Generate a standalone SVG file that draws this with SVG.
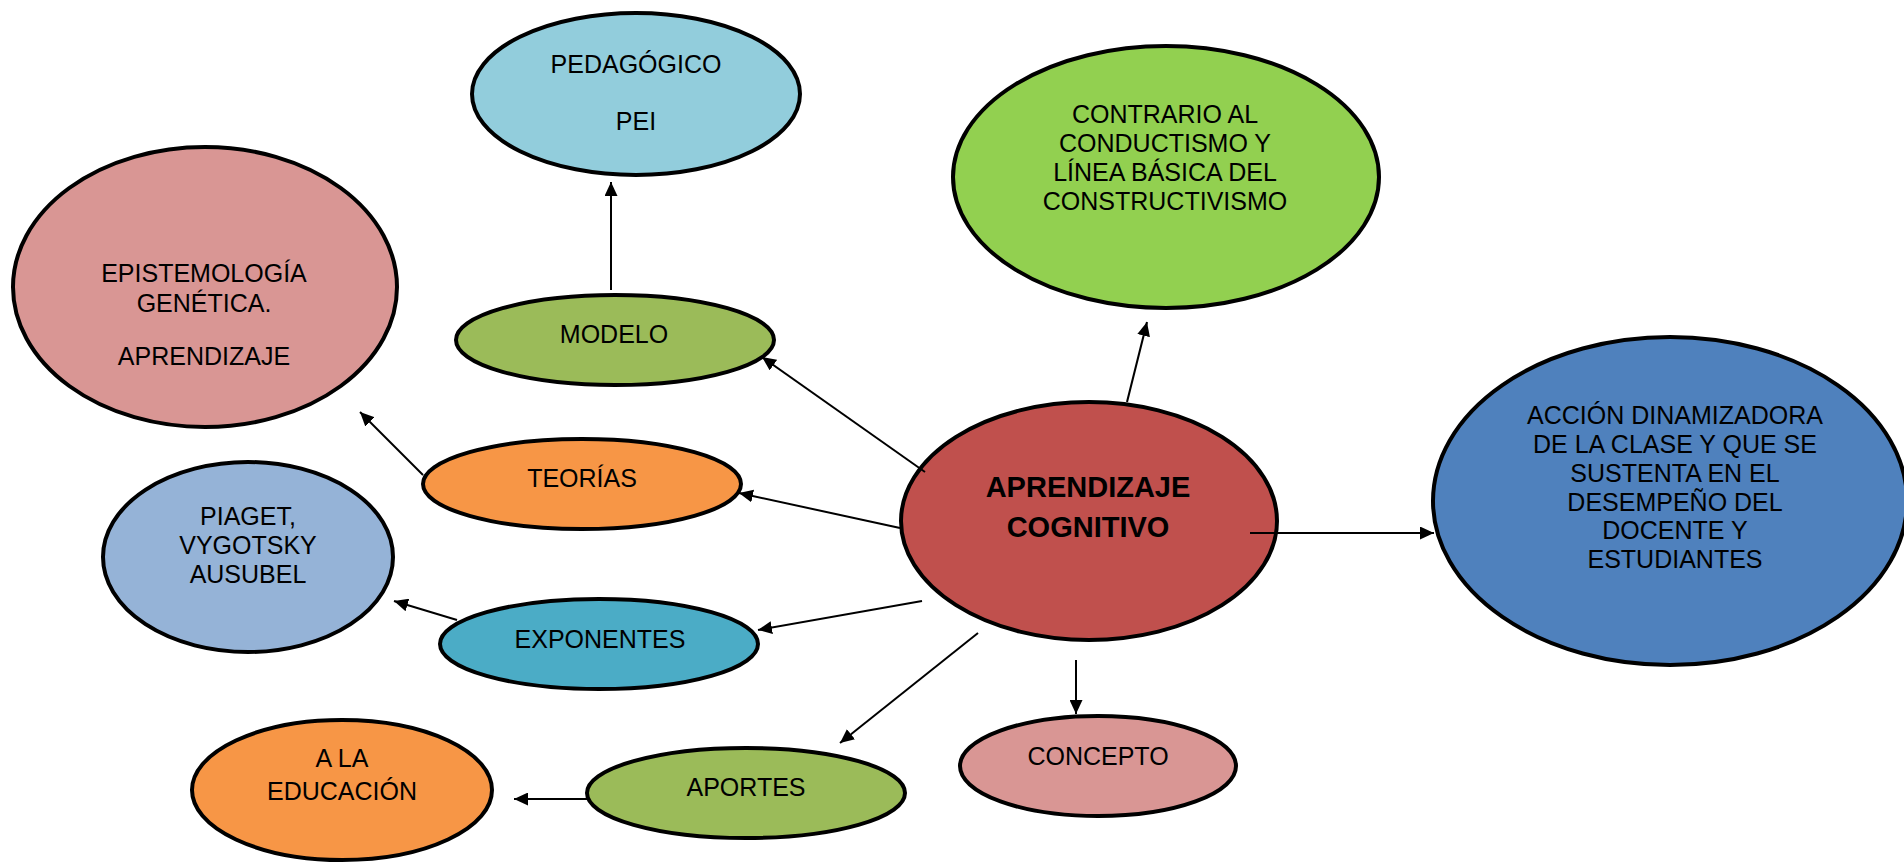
<svg xmlns="http://www.w3.org/2000/svg" width="1904" height="863" viewBox="0 0 1904 863">
  <defs>
    <marker id="arr" markerUnits="userSpaceOnUse" markerWidth="14" markerHeight="13" refX="14" refY="6.5" orient="auto">
      <path d="M0,0 L14,6.5 L0,13 z" fill="#000"/>
    </marker>
  </defs>
  <style>
    .n { stroke: #000; stroke-width: 4; }
    .t { font-family: "Liberation Sans", Arial, sans-serif; font-size: 25px; fill: #000; text-anchor: middle; }
    .b { font-family: "Liberation Sans", Arial, sans-serif; font-size: 29px; font-weight: bold; fill: #000; text-anchor: middle; }
    .c line { stroke: #000; stroke-width: 2; marker-end: url(#arr); }
  </style>
  <rect width="1904" height="863" fill="#fff"/>

  <g id="pedagogico">
    <ellipse class="n" cx="636" cy="94" rx="164" ry="81" fill="#92CDDC"/>
    <text class="t" x="636" y="73">PEDAGÓGICO</text>
    <text class="t" x="636" y="130">PEI</text>
  </g>
  <g id="contrario">
    <ellipse class="n" cx="1166" cy="177" rx="213" ry="131" fill="#92D050"/>
    <text class="t" x="1165" y="123">CONTRARIO AL</text>
    <text class="t" x="1165" y="152">CONDUCTISMO Y</text>
    <text class="t" x="1165" y="181">LÍNEA BÁSICA DEL</text>
    <text class="t" x="1165" y="210">CONSTRUCTIVISMO</text>
  </g>
  <g id="epistemologia">
    <ellipse class="n" cx="205" cy="287" rx="192" ry="140" fill="#D99694"/>
    <text class="t" x="204" y="282">EPISTEMOLOGÍA</text>
    <text class="t" x="204" y="312">GENÉTICA.</text>
    <text class="t" x="204" y="365">APRENDIZAJE</text>
  </g>
  <g id="modelo">
    <ellipse class="n" cx="615" cy="340" rx="159" ry="45" fill="#9BBB59"/>
    <text class="t" x="614" y="343">MODELO</text>
  </g>
  <g id="teorias">
    <ellipse class="n" cx="582" cy="484" rx="159" ry="45" fill="#F79646"/>
    <text class="t" x="582" y="487">TEORÍAS</text>
  </g>
  <g id="piaget">
    <ellipse class="n" cx="248" cy="557" rx="145" ry="95" fill="#95B3D7"/>
    <text class="t" x="248" y="525">PIAGET,</text>
    <text class="t" x="248" y="554">VYGOTSKY</text>
    <text class="t" x="248" y="583">AUSUBEL</text>
  </g>
  <g id="exponentes">
    <ellipse class="n" cx="599" cy="644" rx="159" ry="45" fill="#4BACC6"/>
    <text class="t" x="600" y="648">EXPONENTES</text>
  </g>
  <g id="aprendizaje">
    <ellipse class="n" cx="1089" cy="521" rx="188" ry="119" fill="#C0504D"/>
    <text class="b" x="1088" y="497">APRENDIZAJE</text>
    <text class="b" x="1088" y="537">COGNITIVO</text>
  </g>
  <g id="accion">
    <ellipse class="n" cx="1670" cy="501" rx="237" ry="164" fill="#4F81BD"/>
    <text class="t" x="1675" y="424">ACCIÓN DINAMIZADORA</text>
    <text class="t" x="1675" y="453">DE LA CLASE Y QUE SE</text>
    <text class="t" x="1675" y="482">SUSTENTA EN EL</text>
    <text class="t" x="1675" y="511">DESEMPEÑO DEL</text>
    <text class="t" x="1675" y="539">DOCENTE Y</text>
    <text class="t" x="1675" y="568">ESTUDIANTES</text>
  </g>
  <g id="educacion">
    <ellipse class="n" cx="342" cy="790" rx="150" ry="70" fill="#F79646"/>
    <text class="t" x="342" y="767">A LA</text>
    <text class="t" x="342" y="800">EDUCACIÓN</text>
  </g>
  <g id="aportes">
    <ellipse class="n" cx="746" cy="793" rx="159" ry="45" fill="#9BBB59"/>
    <text class="t" x="746" y="796">APORTES</text>
  </g>
  <g id="concepto">
    <ellipse class="n" cx="1098" cy="766" rx="138" ry="50" fill="#D99694"/>
    <text class="t" x="1098" y="765">CONCEPTO</text>
  </g>

  <g id="connectors" class="c">
    <line x1="611" y1="290" x2="611" y2="182"/>
    <line x1="925" y1="472" x2="762" y2="357"/>
    <line x1="1127" y1="402" x2="1147" y2="322"/>
    <line x1="900" y1="528" x2="739" y2="493"/>
    <line x1="423" y1="475" x2="360" y2="412"/>
    <line x1="457" y1="620" x2="394" y2="601"/>
    <line x1="922" y1="601" x2="758" y2="630"/>
    <line x1="978" y1="633" x2="840" y2="743"/>
    <line x1="587" y1="799" x2="514" y2="799"/>
    <line x1="1076" y1="660" x2="1076" y2="714"/>
    <line x1="1250" y1="533" x2="1434" y2="533"/>
  </g>
</svg>
